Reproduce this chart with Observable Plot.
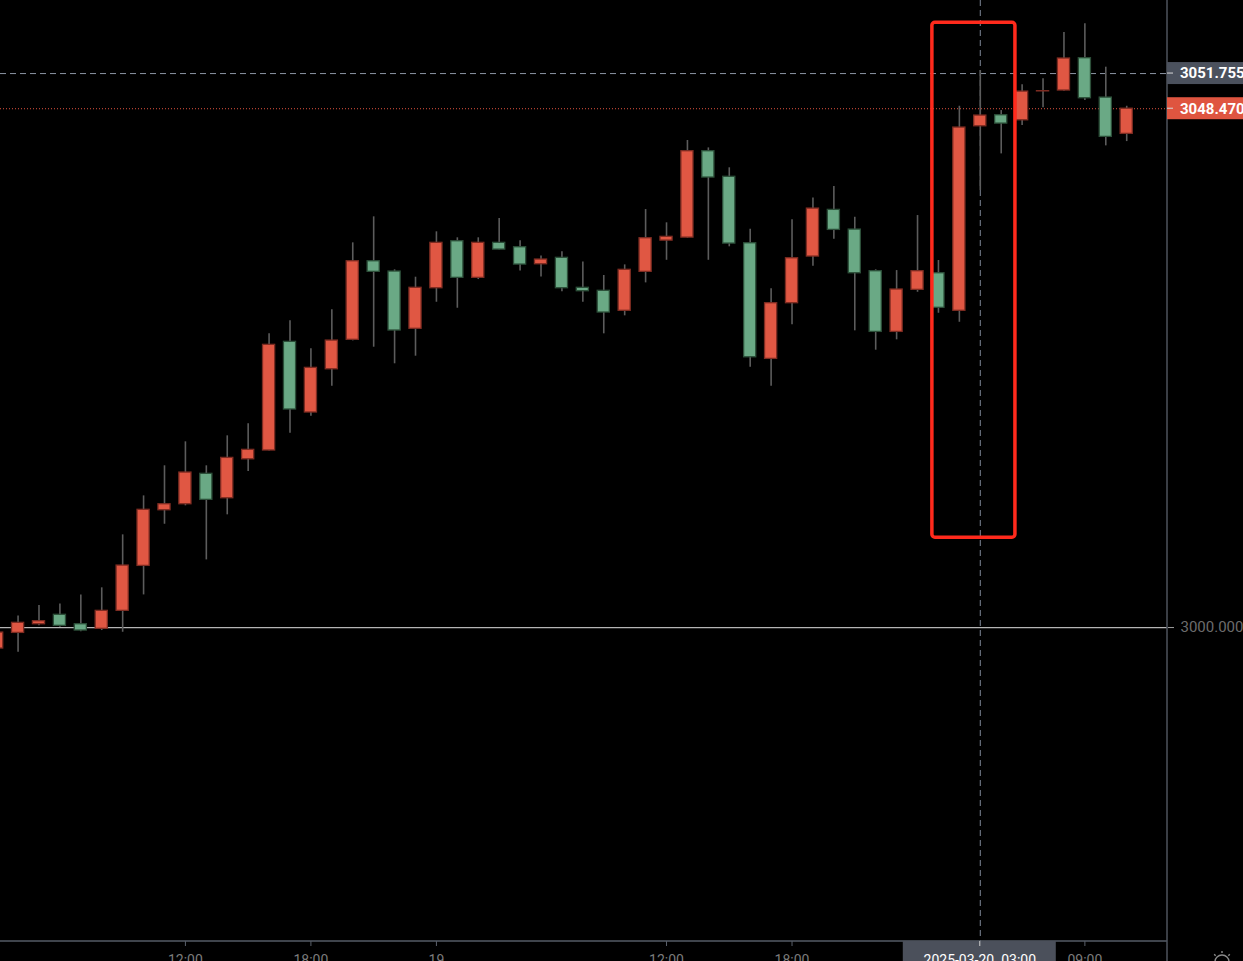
<!DOCTYPE html>
<html><head><meta charset="utf-8">
<script src="https://cdn.jsdelivr.net/npm/d3@7"></script>
<script src="https://cdn.jsdelivr.net/npm/@observablehq/plot@0.6"></script>
<style>
html,body{margin:0;padding:0;background:#000;overflow:hidden;}
#chart{position:relative;width:1243px;height:961px;overflow:hidden;}
svg{overflow:visible;}
</style></head><body><div id="chart"></div>
<script>
const times = [
 "2025-03-18 02:00","2025-03-18 03:00","2025-03-18 04:00","2025-03-18 05:00","2025-03-18 07:00","2025-03-18 08:00","2025-03-18 09:00","2025-03-18 10:00","2025-03-18 11:00","2025-03-18 12:00",
 "2025-03-18 13:00","2025-03-18 14:00","2025-03-18 15:00","2025-03-18 16:00","2025-03-18 17:00","2025-03-18 18:00","2025-03-18 19:00","2025-03-18 20:00","2025-03-18 21:00","2025-03-18 22:00","2025-03-18 23:00",
 "2025-03-19 00:00","2025-03-19 01:00","2025-03-19 02:00","2025-03-19 03:00","2025-03-19 04:00","2025-03-19 05:00","2025-03-19 07:00","2025-03-19 08:00","2025-03-19 09:00","2025-03-19 10:00","2025-03-19 11:00","2025-03-19 12:00",
 "2025-03-19 13:00","2025-03-19 14:00","2025-03-19 15:00","2025-03-19 16:00","2025-03-19 17:00","2025-03-19 18:00","2025-03-19 19:00","2025-03-19 20:00","2025-03-19 21:00","2025-03-19 22:00","2025-03-19 23:00",
 "2025-03-20 00:00","2025-03-20 01:00","2025-03-20 02:00","2025-03-20 03:00","2025-03-20 04:00","2025-03-20 05:00","2025-03-20 07:00","2025-03-20 08:00","2025-03-20 09:00","2025-03-20 10:00","2025-03-20 11:00"
];
const open = [
 2998.04,2999.50,3000.31,3001.19,3000.31,2999.88,3001.56,3005.76,3010.96,3011.52,
 3014.36,3012.08,3015.72,3016.54,3026.69,3020.09,3024.13,3026.88,3034.22,3033.26,3027.91,
 3031.70,3036.09,3032.67,3035.94,3035.53,3033.94,3034.54,3031.74,3031.46,3029.59,3033.23,3036.15,
 3036.43,3044.50,3042.11,3035.90,3025.10,3030.30,3034.66,3039.02,3037.18,3033.29,3027.62,
 3031.55,3033.10,3029.59,3046.83,3047.86,3047.39,3050.09,3050.17,3053.19,3049.51,3046.12
];
const high = [
 2999.72,3001.09,3002.06,3002.21,3003.05,3003.71,3008.66,3012.30,3015.11,3017.35,
 3015.11,3017.91,3019.03,3027.44,3028.65,3026.04,3029.68,3035.94,3038.37,3033.42,3032.73,
 3036.97,3036.41,3036.41,3038.21,3036.13,3034.72,3035.10,3034.16,3032.89,3033.88,3039.05,3037.81,
 3045.50,3044.81,3042.95,3037.21,3031.64,3038.09,3040.14,3041.20,3038.33,3033.42,3033.35,
 3038.49,3034.29,3048.70,3052.04,3048.30,3050.70,3051.26,3055.59,3056.40,3052.35,3048.70
];
const low = [
 2997.85,2997.69,3000.16,3000.03,2999.60,2999.72,2999.56,3003.05,3009.65,3011.37,
 3006.32,3010.53,3014.57,3016.49,3018.15,3019.74,3022.54,3026.78,3026.19,3024.64,3025.35,
 3030.39,3029.83,3032.51,3035.27,3033.32,3032.76,3031.36,3030.39,3027.44,3029.12,3032.20,3034.31,
 3036.37,3034.31,3035.57,3024.32,3022.54,3028.28,3033.75,3036.28,3027.72,3025.91,3026.88,
 3031.32,3029.36,3028.52,3040.83,3044.25,3046.90,3048.55,3050.10,3049.23,3045.00,3045.40
];
const close = [
 2999.53,3000.44,3000.59,3000.16,2999.72,3001.56,3005.79,3011.00,3011.52,3014.48,
 3011.93,3015.85,3016.60,3026.41,3020.37,3024.26,3026.81,3034.22,3033.23,3027.75,3031.74,
 3035.94,3032.67,3035.94,3035.31,3033.91,3034.38,3031.70,3031.42,3029.43,3033.42,3036.37,3036.50,
 3044.50,3042.04,3035.87,3025.25,3030.30,3034.50,3039.14,3037.15,3033.10,3027.62,3031.58,
 3033.29,3029.87,3046.71,3047.83,3047.08,3050.07,3050.11,3053.16,3049.45,3045.84,3048.47
];
const axisTicks = ["2025-03-18 12:00","2025-03-18 18:00","2025-03-19 00:00","2025-03-19 12:00","2025-03-19 18:00","2025-03-20 09:00"];
const yTicks = [3000];
const refLevel = 3000;
const crossTime = "2025-03-20 03:00";
const crossPrice = 3051.755;
const lastPrice = 3048.470;
const highlightFrom = "2025-03-20 01:00";
const highlightTo = "2025-03-20 04:00";
const highlightLow = 3008.4;
const highlightHigh = 3056.5;

const candles = times.map((t, i) => ({i, t, open: open[i], high: high[i], low: low[i], close: close[i], up: close[i] >= open[i]}));
const idx = t => times.indexOf(t);
const crossIndex = idx(crossTime);
const fmtTick = i => { const hm = times[i].slice(11); return hm === "00:00" ? String(+times[i].slice(8, 10)) : hm; };

const UP = "#e05743", UP_EDGE = "#7e2c22", DOWN = "#6aa985", DOWN_EDGE = "#2c4f39";
const half = 0.29;
const FONT = "Roboto, 'Open Sans', sans-serif";

const chart = Plot.plot({
  width: 1243, height: 961,
  marginLeft: 0, marginRight: 76, marginTop: 0, marginBottom: 20,
  style: {background: "#000", color: "#7a7a7a", fontFamily: FONT, fontSize: "14px", overflow: "visible"},
  x: {type: "linear", domain: [0.16, 55.95], axis: null},
  y: {domain: [2970.67, 3058.58], axis: null},
  color: {type: "identity"},
  marks: [
    Plot.ruleY([refLevel], {stroke: "#b5b5b5", strokeWidth: 1.2}),
    Plot.ruleX([crossIndex], {stroke: "#7d8797", strokeDasharray: "6,4", strokeWidth: 1}),
    Plot.ruleY([crossPrice], {stroke: "#8a93a2", strokeDasharray: "6,4", strokeWidth: 1}),
    Plot.ruleY([lastPrice], {stroke: "#e0533f", strokeDasharray: "1,2", strokeWidth: 1}),
    Plot.ruleX(candles, {x: "i", y1: "low", y2: "high", stroke: "#5c5c5c", strokeWidth: 1.6}),
    Plot.rect(candles, {
      x1: d => d.i - half, x2: d => d.i + half, y1: "open", y2: "close",
      fill: d => d.up ? UP : DOWN, stroke: d => d.up ? UP_EDGE : DOWN_EDGE, strokeWidth: 1.3
    }),
    Plot.rect([{a: idx(highlightFrom) - 0.29, b: idx(highlightTo) + 0.68, lo: highlightLow, hi: highlightHigh}],
      {x1: "a", x2: "b", y1: "lo", y2: "hi", fill: "none", stroke: "#ff2a1c", strokeWidth: 3.5, rx: 3}),
    Plot.axisX(axisTicks.map(idx), {anchor: "bottom", tickSize: 5, tickPadding: 9, tickFormat: fmtTick, stroke: "#5a606b", fill: "#7b7b7b", fontSize: 14}),
    Plot.axisY(yTicks, {anchor: "right", tickSize: 6, tickPadding: 7, tickFormat: d => d.toFixed(3), stroke: "#a0a0a0", fill: "#6c6c6c", fontSize: 15})
  ]
});
document.getElementById("chart").appendChild(chart);

const svg = d3.select(chart);
const xs = chart.scale("x"), ys = chart.scale("y");
const right = xs.apply(55.95), bottom = ys.apply(2970.67);
const g = svg.append("g").attr("text-anchor", "start");
// axis lines
g.append("line").attr("x1", 0).attr("x2", right).attr("y1", bottom).attr("y2", bottom).attr("stroke", "#555b66").attr("stroke-width", 1.5);
g.append("line").attr("x1", right).attr("x2", right).attr("y1", 0).attr("y2", 961).attr("stroke", "#4e535d").attr("stroke-width", 1.5);
// price labels on right axis
[[crossPrice, "#4b515d"], [lastPrice, "#df5540"]].forEach(([v, c]) => {
  const y = ys.apply(v);
  g.append("rect").attr("x", right).attr("y", y - 11).attr("width", 80).attr("height", 22).attr("fill", c);
  g.append("line").attr("x1", right).attr("x2", right + 6).attr("y1", y).attr("y2", y).attr("stroke", "#d8d8d8").attr("stroke-width", 1);
  g.append("text").attr("x", right + 13).attr("y", y).attr("dy", "0.36em").attr("fill", "#fff").attr("text-anchor", "start")
    .attr("font-weight", "bold").attr("font-size", 15).attr("font-family", FONT).text(v.toFixed(3));
});
// crosshair time label
const cx = xs.apply(crossIndex);
g.append("rect").attr("x", cx - 77).attr("y", bottom).attr("width", 153).attr("height", 961 - bottom).attr("fill", "#4b505b");
g.append("line").attr("x1", cx).attr("x2", cx).attr("y1", bottom).attr("y2", bottom + 5).attr("stroke", "#d0d0d0");
g.append("text").attr("x", cx).attr("y", bottom + 24).attr("text-anchor", "middle").attr("fill", "#fff")
  .attr("font-size", 14).attr("font-family", FONT).style("white-space", "pre").text(crossTime.replace(" ", "  "));
// settings icon
const ic = g.append("g").attr("transform", `translate(1222,962)`).attr("stroke", "#8a8a8a").attr("fill", "none").attr("stroke-width", 1.4);
ic.append("circle").attr("r", 7);
for (let a = 0; a < 360; a += 45) {
  const r = a * Math.PI / 180;
  ic.append("line").attr("x1", 9 * Math.cos(r)).attr("y1", 9 * Math.sin(r)).attr("x2", 11 * Math.cos(r)).attr("y2", 11 * Math.sin(r));
}
</script>
</body></html>
